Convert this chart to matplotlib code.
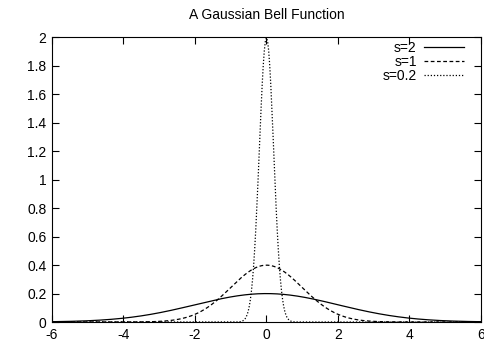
import numpy as np
import matplotlib
matplotlib.use('Agg')
import matplotlib.pyplot as plt

# widths of the three bells and how each is drawn
sigmas = [2, 1, 0.2]
labels = ['s=2', 's=1', 's=0.2']
styles = ['-', (0, (3, 2)), (0, (1, 1.5))]

x_range = [-6, 6]
y_range = [0, 2]
xticks = [-6, -4, -2, 0, 2, 4, 6]
yticks = [0, 0.2, 0.4, 0.6, 0.8, 1, 1.2, 1.4, 1.6, 1.8, 2]
ytick_labels = ['0', '0.2', '0.4', '0.6', '0.8', '1', '1.2', '1.4', '1.6', '1.8', '2']

plt.rcParams['font.family'] = ['Liberation Sans', 'DejaVu Sans']
plt.rcParams['font.size'] = 10

fig = plt.figure(figsize=(4.85, 3.43), dpi=100, facecolor='w')
ax = fig.add_axes([0.1072, 0.0612, 0.8845, 0.8309])

x = np.linspace(x_range[0], x_range[1], 401)
for s, lab, ls in zip(sigmas, labels, styles):
    y = np.exp(-x**2 / (2 * s**2)) / (s * np.sqrt(2 * np.pi))
    ax.plot(x, y, color='black', linestyle=ls, linewidth=0.9, label=lab)

ax.set_xlim(x_range)
ax.set_ylim(y_range)
ax.set_xticks(xticks)
ax.set_yticks(yticks)
ax.set_xticklabels([str(t) for t in xticks])
ax.set_yticklabels(ytick_labels)
ax.tick_params(direction='in', length=5, width=0.8, top=True, right=True, pad=4)
for sp in ax.spines.values():
    sp.set_linewidth(0.8)

ax.set_title('A Gaussian Bell Function', fontsize=10, pad=13)
ax.legend(loc='upper right', bbox_to_anchor=(0.9604, 0.985), frameon=False,
          markerfirst=False, handlelength=2.9, handletextpad=0.5,
          labelspacing=0.0, borderaxespad=0, borderpad=0)

fig.savefig('out.png', dpi=100)
